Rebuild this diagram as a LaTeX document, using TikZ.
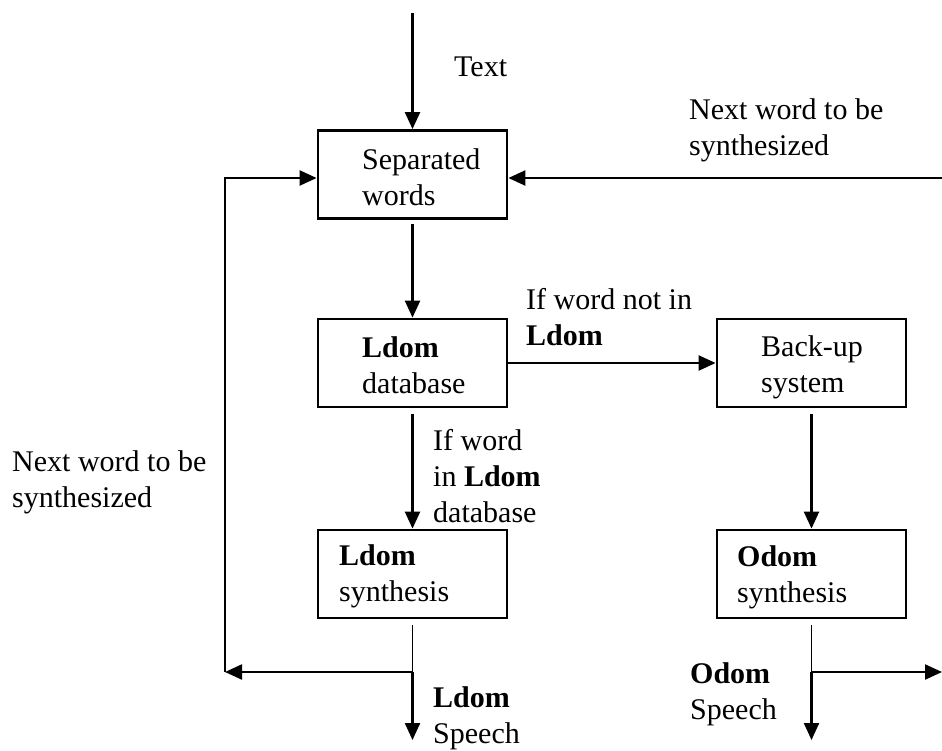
\documentclass[tikz,border=0pt]{standalone}
\usepackage{fontspec}
\setmainfont{Liberation Serif}
\usetikzlibrary{arrows.meta, positioning, calc}

\begin{document}
\begin{tikzpicture}[x=1pt,y=-1pt,
  box/.style={draw,line width=2.8pt,minimum width=189pt,minimum height=88pt,inner sep=0pt},
  txt/.style={anchor=west,align=left,inner sep=0pt,font=\fontsize{30}{36}\selectfont},
  arr/.style={line width=2.3pt,-{Triangle[length=17pt,width=15pt]}},
  stub/.style={line width=1.3pt}]
  \useasboundingbox (0,0) rectangle (942,750);
  % boxes
  \node[box] (sep)  at (412.5,174.5) {};
  \node[box] (ldb)  at (412.5,363) {};
  \node[box] (bak)  at (811.5,363) {};
  \node[box] (lsyn) at (412.5,574) {};
  \node[box] (osyn) at (811.5,574) {};
  \node[txt] (septxt)  at (362,177.5) {Separated\\words};
  \node[txt] (ldbtxt)  at (362,365) {\textbf{Ldom}\\database};
  \node[txt] (baktxt)  at (761,367.5) {Back-up\\system};
  \node[txt] (lsyntxt) at (339,576) {\textbf{Ldom}\\synthesis};
  \node[txt] (osyntxt) at (737,577.5) {\textbf{Odom}\\synthesis};
  % free ends
  \coordinate (intop) at (412.5,13);
  \coordinate (inright) at (942,178);
  \coordinate (lbr) at (412.5,672);
  \coordinate (lcorner) at (225,672);
  \coordinate (ltop) at (225,178);
  \coordinate (lout) at (412.5,740);
  \coordinate (obr) at (811.5,672);
  \coordinate (oout) at (811.5,740);
  \coordinate (oright) at (942,672);
  % main flow
  \draw[arr] (intop) -- (sep.north);
  \draw[arr] (inright) -- (inright -| sep.east);
  \draw[arr,shorten <=4pt] (sep.south) -- (ldb.north);
  \draw[arr] (ldb.east) -- (bak.west);
  \draw[arr,shorten <=6pt] (ldb.south) -- (lsyn.north);
  \draw[arr,shorten <=6pt] (bak.south) -- (osyn.north);
  % outputs
  \draw[stub,shorten <=6pt] (lsyn.south) -- (lbr);
  \draw[arr] (lbr) -- (lout);
  \draw[arr] (lbr) -- (lcorner);
  \draw[arr] (lcorner) -- (ltop) -- (ltop -| sep.west);
  \draw[stub,shorten <=6pt] (osyn.south) -- (obr);
  \draw[arr] (obr) -- (oout);
  \draw[arr] (obr) -- (oright);
  % labels
  \node[txt] (ltext)  at (454,67) {Text};
  \node[txt] (lnextr) at (689,130.5) {Next word to be\\synthesized};
  \node[txt] (lnextl) at (12,482.5) {Next word to be\\synthesized};
  \node[txt] (lnotin) at (526,317) {If word not in\\\textbf{Ldom}};
  \node[txt] (lin)    at (433,476) {If word\\in \textbf{Ldom}\\database};
  \node[txt] (lspeech) at (433,718.5) {\textbf{Ldom}\\Speech};
  \node[txt] (ospeech) at (690,694.5) {\textbf{Odom}\\Speech};
\end{tikzpicture}
\end{document}
